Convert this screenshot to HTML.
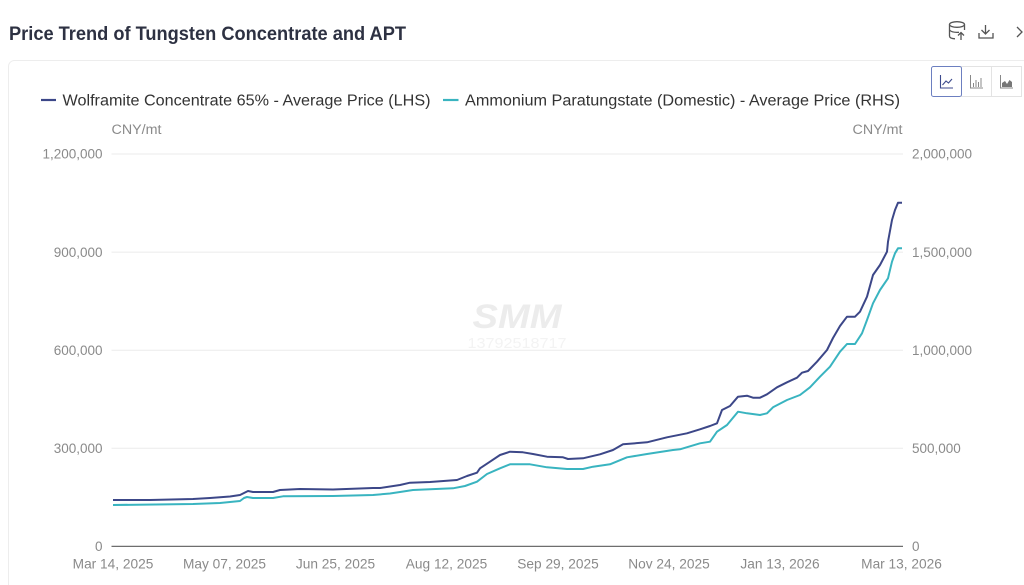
<!DOCTYPE html>
<html><head><meta charset="utf-8"><style>
html,body{margin:0;padding:0;background:#fff;width:1024px;height:585px;overflow:hidden}
svg{display:block;font-family:"Liberation Sans",sans-serif}
</style></head><body>
<svg width="1024" height="585" viewBox="0 0 1024 585" xmlns="http://www.w3.org/2000/svg">
<rect x="0" y="0" width="1024" height="585" fill="#fff"/>
<!-- title -->
<text x="9" y="40" font-size="19" font-weight="bold" fill="#2d3142" textLength="397" lengthAdjust="spacingAndGlyphs">Price Trend of Tungsten Concentrate and APT</text>
<!-- top icons -->
<g fill="none" stroke="#555" stroke-width="1.3">
<ellipse cx="957" cy="24.5" rx="7.5" ry="2.8"/>
<path d="M949.5 24.5 V36 Q949.5 38.5 955 38.8"/>
<path d="M964.5 24.5 V30"/>
<path d="M949.5 30 Q952 32.8 959 32.3"/>
<path d="M961 40 V33 M958 35.5 L961 32.5 L964 35.5"/>
<path d="M985.5 25 V34 M981.5 30 L985.5 34 L989.5 30"/>
<path d="M979 33 V38 H993 V33"/>
<path d="M1017 27 L1022 32 L1017 37"/>
</g>
<!-- card -->
<rect x="8.5" y="60.5" width="1030" height="540" rx="6" fill="#fff" stroke="#ededed"/>
<!-- chart type buttons -->
<rect x="961.5" y="66.5" width="60" height="30" fill="#fff" stroke="#e3e3e3"/>
<line x1="991.5" y1="66.5" x2="991.5" y2="96.5" stroke="#e3e3e3"/>
<rect x="931.5" y="66.5" width="30" height="30" rx="2" fill="#fff" stroke="#6c7fc0"/>
<g fill="none" stroke="#3c4a8c" stroke-width="1.1">
<path d="M940.5 75 V88 H953"/>
<path d="M942.5 85 L946 81 L948.5 83 L952 79"/>
</g>
<g fill="none" stroke="#888" stroke-width="1">
<path d="M970.5 75 V88 H983"/>
<path d="M973.5 87 V83 M976 87 V80 M978.5 87 V82 M981 87 V78"/>
<path d="M1000.5 75 V88 H1013"/>
</g>
<path d="M1002 87 L1002 83 L1005 81 L1007 84 L1009.5 80 L1012 82 V87 Z" fill="#777"/>
<!-- legend -->
<line x1="41" y1="100" x2="56" y2="100" stroke="#3c4788" stroke-width="2.2"/>
<text x="62.5" y="105.5" font-size="15.5" fill="#333" textLength="368" lengthAdjust="spacingAndGlyphs">Wolframite Concentrate 65% - Average Price (LHS)</text>
<line x1="443" y1="100" x2="458.5" y2="100" stroke="#39b4c0" stroke-width="2.2"/>
<text x="465" y="105.5" font-size="15.5" fill="#333" textLength="435" lengthAdjust="spacingAndGlyphs">Ammonium Paratungstate (Domestic) - Average Price (RHS)</text>
<!-- units -->
<text x="111.5" y="134" font-size="13.5" fill="#8a8a8a" textLength="50" lengthAdjust="spacingAndGlyphs">CNY/mt</text>
<text x="902.5" y="134" font-size="13.5" fill="#8a8a8a" text-anchor="end" textLength="50" lengthAdjust="spacingAndGlyphs">CNY/mt</text>
<!-- watermark -->
<text x="517" y="328" font-size="34" font-weight="bold" font-style="italic" fill="#ececec" text-anchor="middle" textLength="89" lengthAdjust="spacingAndGlyphs">SMM</text>
<text x="517" y="348" font-size="15" fill="#f3f3f3" text-anchor="middle" textLength="99" lengthAdjust="spacingAndGlyphs">13792518717</text>
<!-- grid -->
<g stroke="#ebebeb" stroke-width="1">
<line x1="111.5" y1="154" x2="903" y2="154"/>
<line x1="111.5" y1="252.1" x2="903" y2="252.1"/>
<line x1="111.5" y1="350.2" x2="903" y2="350.2"/>
<line x1="111.5" y1="448.3" x2="903" y2="448.3"/>
</g>
<line x1="111.5" y1="546.4" x2="903" y2="546.4" stroke="#6e6e6e" stroke-width="1.2"/>
<!-- left ticks -->
<g font-size="13.5" fill="#8a8a8a" text-anchor="end">
<text x="102.5" y="158.7">1,200,000</text>
<text x="102.5" y="256.8">900,000</text>
<text x="102.5" y="354.9">600,000</text>
<text x="102.5" y="453">300,000</text>
<text x="102.5" y="551.1">0</text>
</g>
<!-- right ticks -->
<g font-size="13.5" fill="#8a8a8a">
<text x="912" y="158.7">2,000,000</text>
<text x="912" y="256.8">1,500,000</text>
<text x="912" y="354.9">1,000,000</text>
<text x="912" y="453">500,000</text>
<text x="912" y="551.1">0</text>
</g>
<!-- x labels -->
<g font-size="13.7" fill="#8a8a8a" text-anchor="middle">
<text x="113" y="568.5">Mar 14, 2025</text>
<text x="224.5" y="568.5">May 07, 2025</text>
<text x="335.5" y="568.5">Jun 25, 2025</text>
<text x="446.5" y="568.5">Aug 12, 2025</text>
<text x="558" y="568.5">Sep 29, 2025</text>
<text x="669" y="568.5">Nov 24, 2025</text>
<text x="780" y="568.5">Jan 13, 2026</text>
<text x="901.5" y="568.5">Mar 13, 2026</text>
</g>
<!-- series -->
<polyline fill="none" stroke="#39b4c0" stroke-width="2" stroke-linejoin="round" points="113,505 193,504 220,503 240,501 244,498 247,497 253,498 273,498 283,496.3 333,496 373,495 390,493.5 400,492 413,490 453,488.3 465,486 477,481.7 487,474 500,468.3 510,464.3 530,464.3 547,467.3 567,469 583,469 593,466.7 610,464.3 627,457.3 647,454 673,450 680,449.3 700,443.3 710,441.7 717,431.7 727,425 738,411.7 747,413.3 760,415 767,413.3 773,407.3 787,400 800,395 810,387.3 820,376.7 830,366.7 840,351.7 847,344 855,344 862,333.3 867,320 873,303.3 880,290 888,278.3 892,261.7 895,253.3 898,248.3 902,248.3"/>
<polyline fill="none" stroke="#3c4788" stroke-width="2" stroke-linejoin="round" points="113,500 150,500 193,499 210,498 230,496.5 240,495 244,493 248,491 253,492 273,492 280,490 300,489 333,489.5 373,488 380,488 400,485 410,482.7 430,482 457,480 467,476 477,472.7 480,468.3 490,461.7 500,455 510,451.7 523,452.3 533,454 547,456.7 563,457.3 568,459 583,458.3 600,454.3 613,450 623,444.3 647,442.3 667,437.3 687,433.3 700,429.3 710,426 717,423.3 722,410 730,406 738,396.7 747,395.7 753,397.7 760,397.7 767,394.3 777,387.3 787,382.3 797,377.7 802,372.7 808,371 817,361.7 827,350 833,338 840,326 847,316.7 855,316.7 860,311.7 867,296.7 873,275 880,265 887,251.7 888,241.7 892,220 895,210 898,202.7 902,202.7"/>
</svg>
</body></html>
